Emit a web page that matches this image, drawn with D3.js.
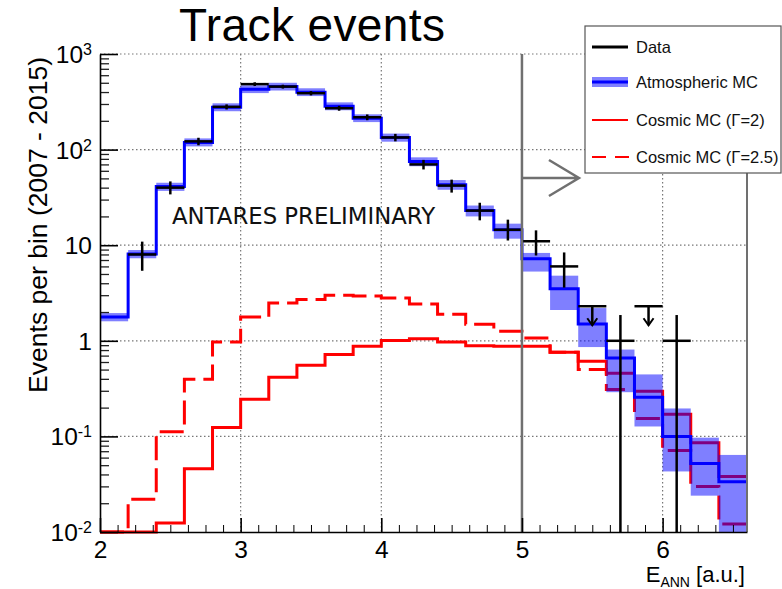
<!DOCTYPE html>
<html>
<head>
<meta charset="utf-8">
<script src="https://cdn.jsdelivr.net/npm/d3@7"></script>
<style>
  body { margin: 0; background: #fff; }
  text { font-family: "Liberation Sans", Arial, sans-serif; }
</style>
</head>
<body>
<div id="chart-area"></div>
<script>
// Bin edges (E_ANN)
const binEdges = [2.0, 2.2, 2.4, 2.6, 2.8, 3.0, 3.2, 3.4, 3.6, 3.8, 4.0, 4.2, 4.4,
  4.6, 4.8, 5.0, 5.2, 5.4, 5.6, 5.8, 6.0, 6.2, 6.4, 6.6];

// Atmospheric MC and its band
const atmMC = [1.77, 8.1, 41, 119, 277, 429, 456, 399, 284, 213, 134, 75, 43, 23,
  14.5, 7.2, 3.5, 1.5, 0.66, 0.256, 0.0995, 0.052, 0.0335];
const atmLow = [1.6, 7.3, 37, 108, 252, 390, 415, 363, 258, 194, 121, 67, 38, 20,
  11.7, 5.3, 2.1, 0.86, 0.29, 0.127, 0.043, 0.024, 0.008];
const atmHigh = [1.95, 8.9, 45, 131, 305, 470, 500, 438, 312, 234, 147, 83, 48, 26,
  16.8, 8.3, 4.8, 2.2, 0.81, 0.445, 0.196, 0.097, 0.064];

// Cosmic MC
const cosmicG2 = [0.01, 0.01, 0.0124, 0.046, 0.124, 0.244, 0.415, 0.555, 0.72, 0.877,
  1.01, 1.05, 0.97, 0.89, 0.877, 0.877, 0.76, 0.61, 0.457, 0.296, 0.17, 0.086, 0.038];
const cosmicG25 = [0.01, 0.022, 0.112, 0.395, 0.97, 1.77, 2.48, 2.7, 3.0, 2.95, 2.8,
  2.42, 1.9, 1.49, 1.26, 1.07, 0.76, 0.5, 0.31, 0.154, 0.071, 0.03, 0.0121];

// Data (null = no point)
const dataVal = [null, 8, 40, 122, 280, 484, 456, 389, 271, 218, 134, 70, 42, 23,
  14.5, 11, 6, null, 1, null, 1, null, null];
const dataLow = [null, 5.4, 34, 111, 263, 462, 435, 369, 255, 203, 122, 62, 35.5, 18.2,
  11.2, 7.8, 3.6, null, 0, null, 0, null, null];
const dataHigh = [null, 10.9, 46.5, 133, 297, 506, 477, 409, 287, 233, 146, 78, 48.5, 27.8,
  18.5, 14.3, 8.4, null, 1.86, null, 1.86, null, null];
// upper limits
const limitBins = [17, 19];
const limitValue = 2.3;

const xMajor = [2, 3, 4, 5, 6];
const yMajor = [0.01, 0.1, 1, 10, 100, 1000];

const legendItems = ["Data", "Atmospheric MC", "Cosmic MC (\u0393=2)", "Cosmic MC (\u0393=2.5)"];

// Size
const W = 782, H = 589;
const plot = { left: 100, right: 747, top: 54, bottom: 532 };

const svg = d3.select("#chart-area").append("svg")
  .attr("width", W).attr("height", H);

const x = d3.scaleLinear().domain([2, 6.6]).range([plot.left, plot.right]);
const y = d3.scaleLog().domain([0.01, 1000]).range([plot.bottom, plot.top]).clamp(true);
const yv = v => y(Math.max(v, 0.01));

// grid
const grid = svg.append("g")
  .attr("stroke", "#777").attr("stroke-width", 1.2).attr("stroke-dasharray", "1.5,2.5");
grid.selectAll("line.gx").data(xMajor.slice(1)).enter().append("line")
  .attr("x1", d => x(d)).attr("x2", d => x(d))
  .attr("y1", plot.top).attr("y2", plot.bottom);
grid.selectAll("line.gy").data(yMajor.slice(1)).enter().append("line")
  .attr("x1", plot.left).attr("x2", plot.right)
  .attr("y1", d => y(d)).attr("y2", d => y(d));

// histogram step path
function steps(vals) {
  let pts = [];
  vals.forEach((v, i) => {
    pts.push([binEdges[i], v], [binEdges[i + 1], v]);
  });
  return d3.line().x(d => x(d[0])).y(d => yv(d[1]))(pts);
}

// cosmic lines (under the band)
svg.append("path").attr("d", steps(cosmicG25))
  .attr("fill", "none").attr("stroke", "#ff0000").attr("stroke-width", 3)
  .attr("stroke-dasharray", "24,8");
svg.append("path").attr("d", steps(cosmicG2))
  .attr("fill", "none").attr("stroke", "#ff0000").attr("stroke-width", 3);

// atmospheric band
svg.selectAll("rect.band").data(atmMC).enter().append("rect")
  .attr("x", (d, i) => x(binEdges[i]))
  .attr("width", (d, i) => x(binEdges[i + 1]) - x(binEdges[i]))
  .attr("y", (d, i) => yv(atmHigh[i]))
  .attr("height", (d, i) => yv(atmLow[i]) - yv(atmHigh[i]))
  .attr("fill", "#0000ff").attr("opacity", 0.5);

svg.append("path").attr("d", steps(atmMC))
  .attr("fill", "none").attr("stroke", "#0000ff").attr("stroke-width", 3);

// data crosses
const pts = dataVal.map((v, i) => ({ v: v, lo: dataLow[i], hi: dataHigh[i], i: i }))
  .filter(d => d.v !== null);
const dg = svg.append("g").attr("stroke", "#000").attr("stroke-width", 2.5);
dg.selectAll("line.h").data(pts).enter().append("line")
  .attr("x1", d => x(binEdges[d.i])).attr("x2", d => x(binEdges[d.i + 1]))
  .attr("y1", d => yv(d.v)).attr("y2", d => yv(d.v));
dg.selectAll("line.v").data(pts).enter().append("line")
  .attr("x1", d => x((binEdges[d.i] + binEdges[d.i + 1]) / 2))
  .attr("x2", d => x((binEdges[d.i] + binEdges[d.i + 1]) / 2))
  .attr("y1", d => yv(d.hi)).attr("y2", d => yv(d.lo));

// upper limits
limitBins.forEach(i => {
  let cx = x((binEdges[i] + binEdges[i + 1]) / 2);
  let yl = y(limitValue);
  dg.append("line").attr("x1", x(binEdges[i])).attr("x2", x(binEdges[i + 1]))
    .attr("y1", yl).attr("y2", yl);
  dg.append("line").attr("x1", cx).attr("x2", cx).attr("y1", yl).attr("y2", yl + 19);
  dg.append("path").attr("fill", "none").attr("stroke-width", 2)
    .attr("d", `M${cx - 5},${yl + 12}L${cx},${yl + 19}L${cx + 5},${yl + 12}`);
});

// cut line at E=5 and arrow
const cut = svg.append("g").attr("stroke", "#707070").attr("stroke-width", 2.5).attr("fill", "none");
cut.append("line").attr("x1", x(5)).attr("x2", x(5)).attr("y1", plot.top).attr("y2", plot.bottom);
cut.append("path")
  .attr("d", `M${x(5)},178H${x(5) + 57}M${x(5) + 27},160L${x(5) + 57},178L${x(5) + 27},196`);

// frame right
svg.append("line").attr("x1", plot.right).attr("x2", plot.right)
  .attr("y1", plot.top).attr("y2", plot.bottom)
  .attr("stroke", "#707070").attr("stroke-width", 2);

// x axis
let xMinor = d3.range(2, 6.6001, 0.125).filter(v => !xMajor.includes(v));
svg.append("g").attr("transform", `translate(0,${plot.bottom})`)
  .call(d3.axisBottom(x).tickValues(xMinor).tickSize(-7).tickSizeOuter(0).tickFormat(""))
  .call(g => g.select(".domain").remove());
let xAxis = svg.append("g").attr("transform", `translate(0,${plot.bottom})`)
  .call(d3.axisBottom(x).tickValues(xMajor).tickSize(-14).tickSizeOuter(0).tickPadding(9)
    .tickFormat(d3.format("d")));
xAxis.selectAll("text").style("font-size", "24.5px").attr("fill", "#000");
xAxis.selectAll("line, path").attr("stroke", "#000").attr("stroke-width", 1.6);

// y axis
let yMinor = [];
yMajor.slice(0, -1).forEach(b => { for (let k = 2; k <= 9; k++) yMinor.push(b * k); });
svg.append("g").attr("transform", `translate(${plot.left},0)`)
  .call(d3.axisLeft(y).tickValues(yMinor).tickSize(-9).tickSizeOuter(0).tickFormat(""))
  .call(g => g.select(".domain").remove())
  .selectAll("line").attr("stroke", "#222").attr("stroke-width", 1.3);
let yAxis = svg.append("g").attr("transform", `translate(${plot.left},0)`)
  .call(d3.axisLeft(y).tickValues(yMajor).tickSize(-18).tickSizeOuter(0).tickPadding(8)
    .tickFormat(""));
yAxis.selectAll("line, path").attr("stroke", "#000").attr("stroke-width", 1.6);
yAxis.selectAll(".tick text").each(function(d) {
  let e = Math.round(Math.log10(d));
  let t = d3.select(this).style("font-size", "24.5px").attr("fill", "#000").attr("dy", "0.35em");
  if (e === 0) { t.text("1"); return; }
  t.append("tspan").text("10");
  if (e !== 1) {
    t.append("tspan").text(e).attr("dy", "-0.5em").style("font-size", "16px");
  }
});

// labels
svg.append("text").text("Track events")
  .attr("x", 179).attr("y", 41).style("font-size", "46px").style("letter-spacing", "0.4px");

svg.append("text").text("Events per bin (2007 - 2015)")
  .attr("transform", "translate(47,57) rotate(-90)")
  .attr("text-anchor", "end").style("font-size", "26.5px");

let xl = svg.append("text").attr("x", 745).attr("y", 582)
  .attr("text-anchor", "end").style("font-size", "22px");
xl.append("tspan").text("E");
xl.append("tspan").text("ANN").attr("dy", 5).style("font-size", "14px");
xl.append("tspan").text(" [a.u.]").attr("dy", -5);

svg.append("text").text("ANTARES PRELIMINARY")
  .attr("x", 172).attr("y", 224)
  .style("font-family", "'DejaVu Sans', sans-serif").style("font-size", "22.8px")
  .attr("fill", "#111");

// Legend
const lg = svg.append("g");
lg.append("rect").attr("x", 585).attr("y", 26).attr("width", 196).attr("height", 147)
  .attr("fill", "#fff").attr("stroke", "#555").attr("stroke-width", 1.2);
const ly = [47, 82, 120, 157];
lg.append("line").attr("x1", 592).attr("x2", 628).attr("y1", ly[0]).attr("y2", ly[0])
  .attr("stroke", "#000").attr("stroke-width", 3);
lg.append("rect").attr("x", 592).attr("width", 36).attr("y", ly[1] - 5).attr("height", 10)
  .attr("fill", "#0000ff").attr("opacity", 0.5);
lg.append("line").attr("x1", 592).attr("x2", 628).attr("y1", ly[1]).attr("y2", ly[1])
  .attr("stroke", "#0000ff").attr("stroke-width", 3);
lg.append("line").attr("x1", 592).attr("x2", 628).attr("y1", ly[2]).attr("y2", ly[2])
  .attr("stroke", "#ff0000").attr("stroke-width", 2);
lg.append("line").attr("x1", 592).attr("x2", 630).attr("y1", ly[3]).attr("y2", ly[3])
  .attr("stroke", "#ff0000").attr("stroke-width", 2).attr("stroke-dasharray", "14,9");
lg.selectAll("text.li").data(legendItems).enter().append("text")
  .text(d => d)
  .attr("x", 636).attr("y", (d, i) => ly[i]).attr("dy", "0.35em")
  .style("font-size", "16.5px").attr("fill", "#111");
</script>
</body>
</html>
